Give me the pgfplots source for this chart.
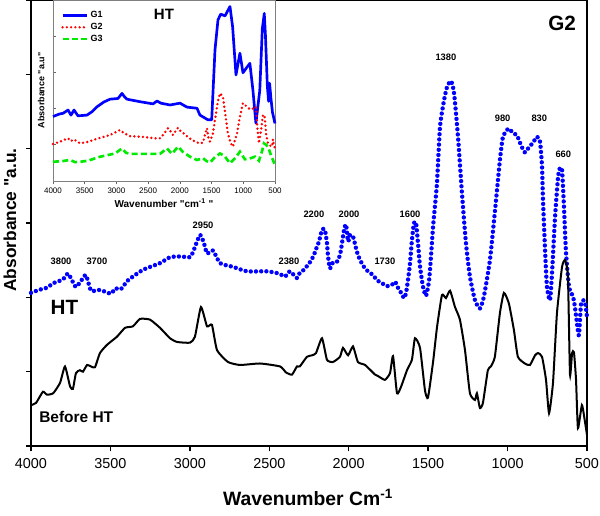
\documentclass[border=0pt]{standalone}
\usepackage{pgfplots}
\pgfplotsset{compat=1.18}
\usepackage{fontspec}
\setmainfont{Liberation Sans}[Ligatures=TeXOff]
\definecolor{myblue}{RGB}{0,0,255}
\definecolor{myred}{RGB}{255,0,0}
\definecolor{mygreen}{RGB}{0,235,0}
\begin{document}
\begin{tikzpicture}
\path[use as bounding box] (0pt,0pt) rectangle (450pt,386.25pt);
% ---------------- main axis ----------------
\begin{axis}[
  at={(23.25pt,51.75pt)}, anchor=south west,
  scale only axis, width=417pt, height=334.5pt,
  xmin=500, xmax=4000, x dir=reverse,
  ymin=0, ymax=6,
  xtick={500,1000,...,4000},
  ytick={0,1,...,6}, yticklabels={},
  xtick pos=bottom, ytick pos=left,
  tick align=outside,
  major tick length=4pt,
  axis line style={line width=1.3pt},
  every tick/.style={line width=1pt, black},
  /pgf/number format/assume math mode=true,
  /pgf/number format/1000 sep={},
  xticklabel style={font=\fontsize{10.8}{12}\selectfont, yshift=-2pt},
  clip=false,
]
\addplot[myblue, line width=3.3pt, line cap=round, dash pattern=on 0pt off 3.9pt, smooth, tension=0.35] coordinates {
(4000,2.06)(3950,2.10)(3899,2.13)(3860,2.19)(3800,2.24)(3767,2.32)(3740,2.22)(3717,2.14)(3685,2.22)(3654,2.30)(3622,2.09)
(3566,2.10)(3497,2.05)(3470,2.12)(3434,2.11)(3389,2.23)(3295,2.37)(3188,2.46)(3125,2.54)(3060,2.55)(2999,2.54)(2980,2.61)
(2936,2.84)(2910,2.72)(2892,2.59)(2854,2.63)(2810,2.46)(2728,2.41)(2640,2.35)(2514,2.35)(2440,2.32)(2401,2.28)(2370,2.35)
(2326,2.26)(2308,2.33)(2282,2.37)(2263,2.42)(2238,2.49)(2219,2.57)(2200,2.68)(2187,2.75)(2168,2.91)(2150,2.91)(2137,2.73)
(2130,2.55)(2118,2.39)(2099,2.47)(2074,2.48)(2055,2.57)(2042,2.73)(2029,2.91)(2017,2.98)(2004,2.75)(1992,2.84)(1973,2.82)
(1954,2.66)(1942,2.57)(1923,2.48)(1904,2.41)(1879,2.35)(1847,2.30)(1822,2.23)(1790,2.19)(1759,2.15)(1727,2.17)(1708,2.21)
(1690,2.13)(1670,2.06)(1651,1.99)(1639,2.06)(1627,2.23)(1614,2.46)(1602,2.77)(1589,3.00)(1576,3.00)(1564,2.73)(1551,2.41)
(1532,2.14)(1513,2.02)(1494,2.23)(1482,2.55)(1469,2.95)(1456,3.25)(1444,3.55)(1425,4.30)(1400,4.65)(1381,4.83)(1356,4.91)
(1337,4.75)(1312,4.16)(1287,3.40)(1262,2.73)(1237,2.28)(1205,1.96)(1174,1.85)(1149,2.01)(1111,2.50)(1079,3.17)(1048,3.85)
(1029,4.16)(1004,4.25)(991,4.27)(966,4.21)(941,4.18)(916,4.05)(891,3.95)(865,4.02)(840,4.08)(815,4.16)(796,4.10)(783,3.76)
(777,3.31)(764,2.64)(752,2.14)(733,1.96)(720,2.33)(701,3.08)(682,3.62)(670,3.74)(657,3.71)(645,3.22)(632,2.60)(613,2.14)
(588,2.01)(576,1.87)(557,1.55)(550,1.50)(538,1.90)(526,1.96)(513,1.94)(500,1.74)
};
\addplot[black, line width=1.5pt, smooth, tension=0.3] coordinates {
(4000,0.55)(3968,0.58)(3925,0.73)(3899,0.69)(3860,0.71)(3817,0.85)(3786,1.07)(3754,0.80)(3736,0.77)(3717,0.98)(3692,1.02)
(3673,1.00)(3647,1.09)(3622,1.07)(3597,1.06)(3566,1.25)(3522,1.36)(3459,1.47)(3408,1.59)(3358,1.61)(3314,1.71)(3251,1.70)
(3188,1.59)(3125,1.45)(3081,1.40)(2999,1.39)(2968,1.47)(2930,1.87)(2892,1.61)(2861,1.63)(2829,1.29)(2760,1.13)(2684,1.09)
(2558,1.11)(2432,1.07)(2395,0.99)(2357,0.96)(2326,1.07)(2308,1.07)(2263,1.20)(2231,1.22)(2206,1.25)(2168,1.45)(2137,1.16)
(2099,1.13)(2055,1.20)(2036,1.32)(2004,1.22)(1973,1.34)(1942,1.13)(1897,1.09)(1834,0.96)(1815,0.94)(1772,0.89)(1740,0.98)
(1721,1.21)(1696,0.71)(1670,0.80)(1633,1.02)(1602,1.16)(1583,1.45)(1551,1.32)(1520,0.75)(1501,0.65)(1469,1.13)(1444,1.60)
(1413,2.03)(1388,1.99)(1362,2.09)(1331,1.87)(1300,1.70)(1268,1.29)(1237,0.71)(1205,0.62)(1193,0.71)(1174,0.51)(1155,0.58)
(1124,1.02)(1105,1.07)(1080,1.20)(1048,1.79)(1023,2.06)(992,1.92)(960,1.56)(935,1.20)(891,1.11)(859,1.09)(827,1.22)(808,1.25)
(783,1.20)(758,0.89)(739,0.44)(714,0.85)(689,1.79)(657,2.41)(638,2.50)(620,2.28)(607,0.96)(594,1.25)(582,1.26)(569,0.89)
(557,0.24)(532,0.55)(513,0.33)(500,0.15)
};
\begin{scope}[font=\fontsize{7}{8}\selectfont\bfseries]
\node at (axis cs:3811,2.48) {3800};
\node at (axis cs:3585,2.48) {3700};
\node at (axis cs:2917,2.97) {2950};
\node at (axis cs:2376,2.48) {2380};
\node at (axis cs:2219,3.12) {2200};
\node at (axis cs:1998,3.12) {2000};
\node at (axis cs:1772,2.48) {1730};
\node at (axis cs:1614,3.12) {1600};
\node at (axis cs:1388,5.23) {1380};
\node at (axis cs:1031,4.41) {980};
\node at (axis cs:800,4.41) {830};
\node at (axis cs:649,3.93) {660};
\end{scope}
\node[font=\fontsize{15.5}{17}\selectfont\bfseries] at (axis cs:657,5.68) {G2};
\node[font=\fontsize{15.5}{17}\selectfont\bfseries] at (axis cs:3789,1.87) {HT};
\node[font=\fontsize{11.6}{13}\selectfont\bfseries] at (axis cs:3715,0.39) {Before HT};
\end{axis}
\node[rotate=90, font=\fontsize{13}{15}\selectfont\bfseries] at (7.5pt,221.25pt) {Absorbance "a.u.};
\node[font=\fontsize{14.5}{16}\selectfont\bfseries] at (231pt,13.5pt) {Wavenumber Cm\textsuperscript{-1}};
% ---------------- inset axis ----------------
\begin{axis}[
  at={(39.75pt,250.5pt)}, anchor=south west,
  scale only axis, width=166.5pt, height=135.75pt,
  xmin=500, xmax=4000, x dir=reverse,
  ymin=0, ymax=5,
  xtick={500,1000,...,4000},
  ytick={1,2,3,4}, yticklabels={},
  xtick pos=bottom, ytick pos=left,
  axis line style={line width=0.6pt, gray},
  x axis line style={black!70},
  xtick align=outside, ytick align=inside,
  major tick length=2.5pt,
  every tick/.style={line width=0.5pt, gray!80!black},
  /pgf/number format/assume math mode=true,
  /pgf/number format/1000 sep={},
  xticklabel style={font=\fontsize{6}{7}\selectfont, yshift=1pt},
  xlabel={Wavenumber "cm\textsuperscript{-1} "},
  xlabel style={font=\fontsize{7.5}{9}\selectfont\bfseries, yshift=3pt},
  ylabel={Absorbance "a.u"},
  ylabel style={font=\fontsize{6.7}{8}\selectfont\bfseries, yshift=-4pt},
  legend style={at={(0.03,0.96)}, anchor=north west, draw=none, fill=none,
    font=\fontsize{6.75}{8}\selectfont\bfseries, row sep=-1.5pt, inner sep=1pt},
  legend cell align=left,
  legend image code/.code={\draw[#1] (0pt,0pt) -- (18pt,0pt);},
  clip=false,
]
\addplot[myblue, line width=2pt, line join=round] coordinates {
(4000,1.78)(3900,1.85)(3842,1.87)(3763,1.96)(3716,1.82)(3669,1.96)(3606,1.80)(3464,1.82)(3380,1.92)(3306,2.05)(3200,2.18)
(3101,2.26)(2975,2.28)(2912,2.42)(2870,2.32)(2833,2.26)(2628,2.19)(2423,2.13)(2360,2.21)(2300,2.15)(2155,2.10)(1998,2.15)
(1887,2.04)(1730,2.01)(1683,1.82)(1557,1.69)(1498,1.69)(1446,3.62)(1399,4.45)(1356,4.61)(1288,4.56)(1210,4.82)(1168,4.26)
(1115,2.93)(1053,3.53)(1005,2.99)(948,3.13)(896,3.25)(848,2.51)(801,1.60)(740,2.50)(700,4.20)(669,4.63)(650,4.00)(620,2.60)
(600,2.20)(585,2.70)(565,2.30)(540,1.90)(500,1.59)
};
\addlegendentry{G1}
\addplot[myred, line width=2pt, line cap=round, dash pattern=on 0pt off 3.2pt] coordinates {
(4000,1.02)(3900,1.08)(3763,1.18)(3720,1.10)(3669,1.15)(3574,1.04)(3450,1.08)(3338,1.15)(3200,1.22)(3101,1.27)(2943,1.41)
(2880,1.32)(2786,1.24)(2600,1.22)(2400,1.18)(2313,1.18)(2250,1.30)(2187,1.46)(2140,1.36)(2108,1.27)(2060,1.40)(2029,1.47)
(1990,1.38)(1950,1.33)(1850,1.18)(1761,1.09)(1690,1.04)(1635,1.06)(1600,1.30)(1572,1.46)(1550,1.20)(1525,1.09)(1480,1.30)
(1446,1.69)(1400,2.20)(1368,2.42)(1321,2.33)(1280,1.80)(1243,1.32)(1200,1.05)(1163,0.95)(1100,1.30)(1053,1.78)(1005,2.15)
(940,2.05)(896,1.98)(840,2.00)(801,2.05)(780,1.50)(753,1.04)(720,1.40)(690,1.82)(665,1.82)(640,1.30)(611,1.04)(580,0.98)
(548,0.95)(532,1.15)(520,1.00)(500,0.90)
};
\addlegendentry{G2}
\addplot[mygreen, line width=2pt, dash pattern=on 4.5pt off 2.5pt] coordinates {
(4000,0.53)(3850,0.55)(3732,0.58)(3650,0.52)(3574,0.53)(3450,0.56)(3259,0.67)(3022,0.76)(2912,0.90)(2850,0.78)(2786,0.75)
(2500,0.75)(2313,0.75)(2203,0.90)(2124,0.75)(2029,0.95)(1950,0.80)(1840,0.67)(1730,0.58)(1635,0.63)(1580,0.55)(1525,0.51)
(1450,0.65)(1368,0.76)(1300,0.70)(1210,0.49)(1120,0.65)(1053,0.81)(975,0.60)(900,0.62)(817,0.67)(753,0.56)(700,0.85)
(674,1.04)(640,1.00)(611,0.95)(560,0.70)(500,0.44)
};
\addlegendentry{G3}
\node[font=\fontsize{11.25}{13}\selectfont\bfseries] at (axis cs:2250,4.59) {HT};
\end{axis}
\end{tikzpicture}
\end{document}
